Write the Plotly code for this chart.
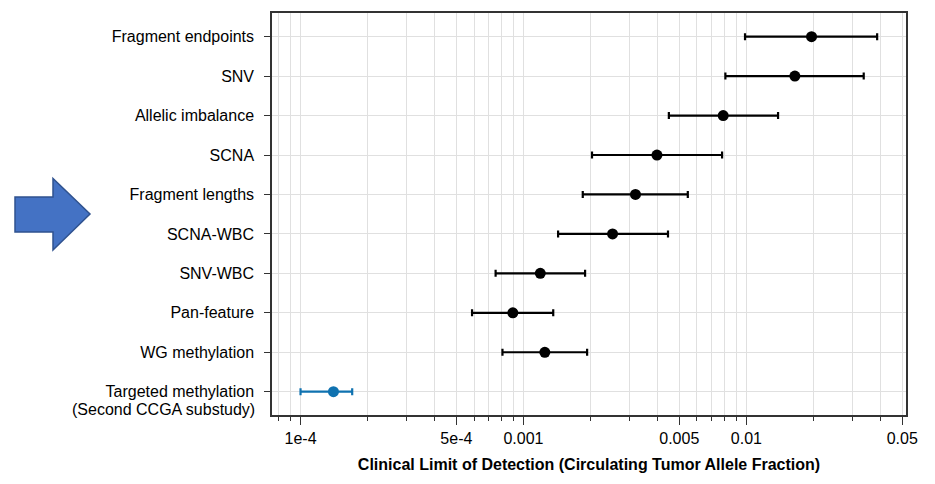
import plotly.graph_objects as go

categories = ["Fragment endpoints", "SNV", "Allelic imbalance", "SCNA", "Fragment lengths",
              "SCNA-WBC", "SNV-WBC", "Pan-feature", "WG methylation", "Targeted methylation"]
category_subtitles = ["", "", "", "", "", "", "", "", "", "(Second CCGA substudy)"]
lod = [0.0196, 0.0165, 0.00787, 0.00397, 0.00318, 0.00251, 0.00119, 0.000896, 0.001247, 0.0001405]
ci_low = [0.00986, 0.00805, 0.00449, 0.00203, 0.001845, 0.00143, 0.00075, 0.000588, 0.000805, 0.0001]
ci_high = [0.0386, 0.0336, 0.01387, 0.00778, 0.00546, 0.00445, 0.00189, 0.00136, 0.00193, 0.0001705]
colors = ["#000000"] * 9 + ["#0f72b0"]

tick_vals = [1e-4, 5e-4, 1e-3, 5e-3, 1e-2, 5e-2]
tick_text = ["1e-4", "5e-4", "0.001", "0.005", "0.01", "0.05"]
minor_vals = [m * 10.0 ** e for e in range(-5, -1) for m in range(1, 10)]

fig = go.Figure()
for i, cat in enumerate(categories):
    fig.add_trace(go.Scatter(
        x=[lod[i]], y=[cat], mode="markers",
        marker=dict(color=colors[i], size=11),
        error_x=dict(type="data", symmetric=False,
                     array=[ci_high[i] - lod[i]], arrayminus=[lod[i] - ci_low[i]],
                     color=colors[i], thickness=2.2, width=3.5),
        showlegend=False, hoverinfo="x+y"))

fig.update_layout(
    width=935, height=484,
    margin=dict(l=272, r=29, t=13, b=69),
    paper_bgcolor="white", plot_bgcolor="white",
    font=dict(family="Liberation Sans, Arial, sans-serif", size=16, color="#000000"),
    xaxis=dict(
        type="log", range=[-4.128, -1.284],
        tickvals=tick_vals, ticktext=tick_text,
        tickfont=dict(size=16),
        ticks="outside", ticklen=8, tickwidth=1.3, tickcolor="#333333",
        showgrid=True, gridcolor="#e0e0e0", gridwidth=1,
        minor=dict(tickvals=minor_vals, ticks="outside", ticklen=4, tickwidth=1,
                   tickcolor="#333333", showgrid=True, gridcolor="#e0e0e0", gridwidth=1),
        showline=True, linecolor="#333333", linewidth=1.5, mirror=True,
        zeroline=False,
        title=dict(text="<b>Clinical Limit of Detection (Circulating Tumor Allele Fraction)</b>",
                   font=dict(size=16), standoff=13),
    ),
    yaxis=dict(
        type="category", categoryorder="array", categoryarray=categories[::-1],
        range=[-0.59, 9.6],
        tickfont=dict(size=16),
        ticks="outside", ticklen=6, tickwidth=1.3, tickcolor="#333333",
        showgrid=True, gridcolor="#e0e0e0", gridwidth=1,
        showline=True, linecolor="#333333", linewidth=1.5, mirror=True,
        zeroline=False, ticklabelstandoff=7,
    ),
)

# second line of the multi-line category label
for cat, sub in zip(categories, category_subtitles):
    if sub:
        fig.add_annotation(text=sub, x=0, xref="paper", xanchor="right", xshift=-15,
                           y=cat, yref="y", yshift=-18, showarrow=False,
                           font=dict(size=16, color="#000000"))

# Decorative arrow (left of the chart), positioned in paper coordinates
def px(xp):
    return (xp - 272) / 634.0

def py(yp):
    return (415 - yp) / 402.0

pts = [(15, 197), (53, 197), (53, 178.5), (90, 214), (53, 250), (53, 232), (15, 232)]
path = "M " + " L ".join(f"{px(a):.5f},{py(b):.5f}" for a, b in pts) + " Z"
fig.add_shape(type="path", path=path, xref="paper", yref="paper",
              fillcolor="#4472C4", line=dict(color="#2F528F", width=1.5), layer="above")

fig.write_html("out.html")
